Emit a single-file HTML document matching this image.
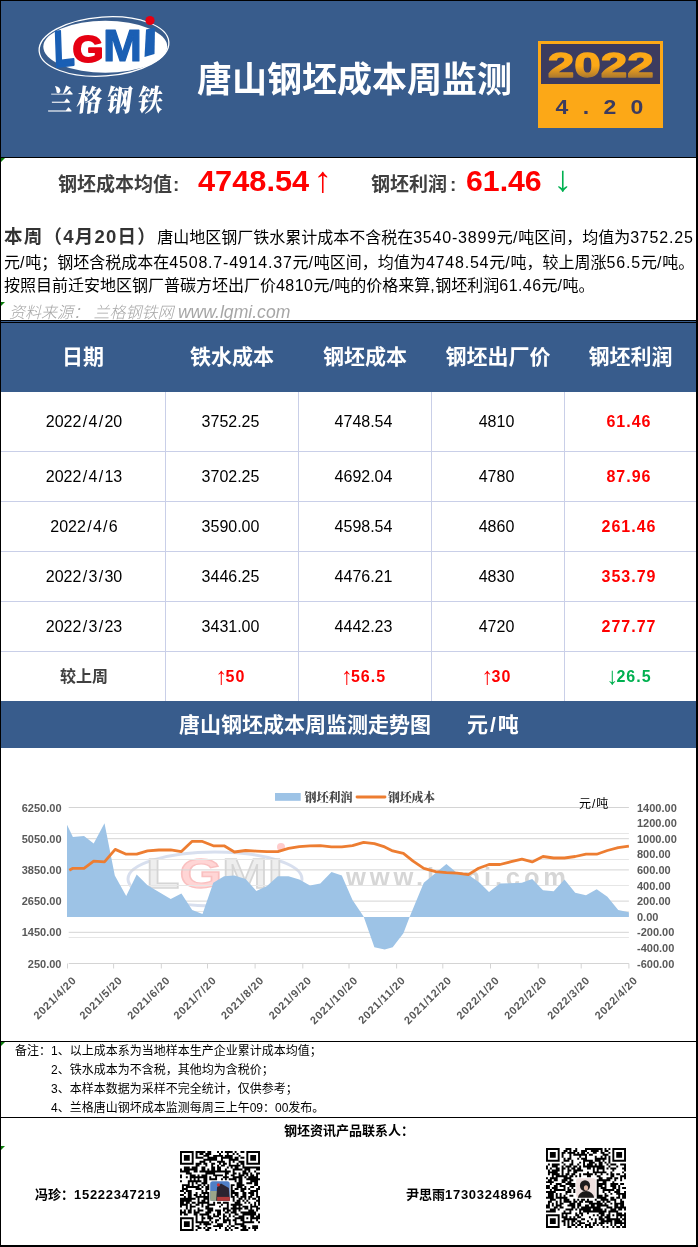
<!DOCTYPE html>
<html lang="zh-CN"><head><meta charset="utf-8"><title>唐山钢坯成本周监测</title>
<style>
*{margin:0;padding:0;box-sizing:border-box}
html,body{width:698px;height:1247px;background:#fff;overflow:hidden}
body{position:relative;font-family:"Liberation Sans","Noto Sans CJK SC",sans-serif;color:#000}
.abs{position:absolute;white-space:nowrap}
.blue{background:#385c8c}
.blk{background:#000}
.tri{position:absolute;width:0;height:0;border-top:4px solid #0a7d0a;border-right:4px solid transparent}
.hl{position:absolute;left:1px;width:695px;height:1px;background:#c9cfe8}
.vl{position:absolute;top:392px;width:1px;height:310px;background:#c9cfe8}
.th{position:absolute;top:322px;height:70px;line-height:70px;text-align:center;color:#fff;font-weight:bold;font-size:21px}
.td{position:absolute;padding-right:3px;height:50px;line-height:50px;text-align:center;font-size:16px;color:#000}
.red{color:#f00;font-weight:bold;letter-spacing:1px}
.ar{margin-right:-2px;font-size:24px;font-weight:normal;letter-spacing:0;line-height:10px;position:relative;top:2px}
.sl{padding:0 1.3px}
.grn{color:#00b050;font-weight:bold;letter-spacing:1px}
.p{position:absolute;left:4px;white-space:nowrap;font-size:16px;line-height:22px;color:#000}
.n{letter-spacing:0.8px}
.note{position:absolute;white-space:nowrap;font-size:12px;line-height:16px;color:#000}
</style></head>
<body>
<div class="abs blue" style="left:1px;top:1px;width:695px;height:156px"></div>
<svg class="abs" style="left:30px;top:10px" width="150" height="110" viewBox="30 10 150 110">
<ellipse cx="104" cy="46.5" rx="65" ry="29.5" fill="none" stroke="#fff" stroke-width="1.3" transform="rotate(-4 104 46.5)"/>
<ellipse cx="105.3" cy="46.8" rx="62" ry="26" fill="#fff"/>
<g font-family="'Liberation Sans',sans-serif" font-weight="bold" stroke-linejoin="round">
<text x="0" y="0" font-size="51" fill="#1a5fb4" stroke="#1a5fb4" stroke-width="2.2" transform="translate(54.5,67.2) rotate(-7) skewX(-5) scale(0.66,1)">L</text>
<text x="72.5" y="61.5" font-size="37" fill="#e60012" stroke="#e60012" stroke-width="1.8" textLength="31" lengthAdjust="spacingAndGlyphs">G</text>
<text x="103" y="60.5" font-size="45" fill="#1a5fb4" stroke="#1a5fb4" stroke-width="1.2" textLength="39" lengthAdjust="spacingAndGlyphs">M</text>
</g>
<path d="M144.5 57 L146 29.5 L155 27.5 L154.5 54 Z" fill="#1a5fb4"/>
<circle cx="150" cy="20.5" r="4.6" fill="#e60012"/>
<text x="60.5 89 119 150" y="93.5" transform="scale(1,1.19) skewX(-8)" font-family="'Noto Serif CJK SC','Noto Sans CJK SC',serif" font-weight="900" font-size="25" fill="#fff">兰格钢铁</text>
</svg>

<div class="abs" style="left:197px;top:54px;font-size:35px;line-height:52px;font-weight:bold;color:#fff">唐山钢坯成本周监测</div>
<div class="abs" style="left:538px;top:41px;width:125px;height:87px;background:#fca817"></div>
<div class="abs" style="left:541px;top:44px;width:119px;height:40px;background:#3c3b5f"></div>
<svg class="abs" style="left:541px;top:44px" width="119" height="40" viewBox="541 44 119 40"><defs><linearGradient id="yg" gradientUnits="userSpaceOnUse" x1="0" y1="51" x2="0" y2="78"><stop offset="0" stop-color="#fca817"/><stop offset="0.55" stop-color="#fca817"/><stop offset="1" stop-color="#a8772f"/></linearGradient></defs><text x="600.7" y="77.3" text-anchor="middle" font-family="'Liberation Sans',sans-serif" font-weight="bold" font-size="35.5" fill="url(#yg)" stroke="url(#yg)" stroke-width="1.3" stroke-linejoin="round" textLength="106" lengthAdjust="spacingAndGlyphs">2022</text></svg>
<div class="abs" style="left:551.7px;top:94px;width:20px;height:26px;line-height:26px;text-align:center;font-size:20px;font-weight:bold;color:#3c3b5f;transform:scaleX(1.15)">4</div>
<div class="abs" style="left:575.5px;top:94px;width:20px;height:26px;line-height:26px;text-align:center;font-size:20px;font-weight:bold;color:#3c3b5f;transform:scaleX(1.15)">.</div>
<div class="abs" style="left:600px;top:94px;width:20px;height:26px;line-height:26px;text-align:center;font-size:20px;font-weight:bold;color:#3c3b5f;transform:scaleX(1.15)">2</div>
<div class="abs" style="left:626.5px;top:94px;width:20px;height:26px;line-height:26px;text-align:center;font-size:20px;font-weight:bold;color:#3c3b5f;transform:scaleX(1.15)">0</div>
<div class="abs blk" style="left:0;top:0;width:698px;height:1px"></div>
<div class="abs blk" style="left:0;top:0;width:1px;height:1247px"></div>
<div class="abs blk" style="left:696px;top:0;width:2px;height:1247px"></div>
<div class="abs blk" style="left:0;top:1245px;width:698px;height:2px"></div>
<div class="abs blk" style="left:0;top:157px;width:698px;height:1px"></div>
<div class="abs blk" style="left:0;top:320px;width:698px;height:3px"></div>
<div class="abs blue" style="left:1px;top:321px;width:695px;height:1px"></div>
<div class="abs blk" style="left:0;top:1041px;width:698px;height:1px"></div>
<div class="abs blk" style="left:0;top:1117px;width:698px;height:1px"></div>
<div class="tri" style="left:1px;top:158px"></div>
<div class="tri" style="left:1px;top:302px"></div>
<div class="tri" style="left:1px;top:1042px"></div>
<div class="tri" style="left:1px;top:1146px"></div>
<div class="abs" id="s1" style="left:58px;top:170.5px;font-size:19px;line-height:28px;font-weight:bold;color:#404040">钢坯成本均值<span style="margin-left:1px">:</span></div>
<div class="abs" id="s2" style="left:198px;top:162.5px;font-size:29px;line-height:36px;font-weight:bold;color:#f00;transform:scaleX(1.06);transform-origin:0 0">4748.54</div>
<div class="abs" id="s2a" style="left:314px;top:161.5px;width:18px;text-align:center;font-size:36px;line-height:36px;color:#f00;transform:scaleX(1.05)">↑</div>
<div class="abs" id="s3" style="left:371px;top:170.5px;font-size:19px;line-height:28px;font-weight:bold;color:#404040">钢坯利润<span style="margin-left:3px">:</span></div>
<div class="abs" id="s4" style="left:466px;top:162.5px;font-size:29px;line-height:36px;font-weight:bold;color:#f00;transform:scaleX(1.043);transform-origin:0 0">61.46</div>
<div class="abs" id="s4a" style="left:553.5px;top:161.3px;width:18px;text-align:center;font-size:36px;line-height:36px;color:#00b050;transform:scaleX(1.05)">↓</div>
<div class="p" id="p1" style="top:226px"><b style="font-size:18.5px;color:#333;letter-spacing:1.25px">本周（4月20日）</b>唐山地区钢厂铁水累计成本不含税在<span class="n">3540-3899</span>元<span class="n">/</span>吨区间，均值为<span class="n">3752.25</span></div>
<div class="p" id="p2" style="top:252px">元<span class="n">/</span>吨；钢坯含税成本在<span class="n">4508.7-4914.37</span>元<span class="n">/</span>吨区间，均值为<span class="n">4748.54</span>元<span class="n">/</span>吨，较上周涨<span class="n">56.5</span>元<span class="n">/</span>吨。</div>
<div class="p" id="p3" style="top:275px">按照目前迁安地区钢厂普碳方坯出厂价<span style="letter-spacing:0.45px">4810</span>元<span style="letter-spacing:0.45px">/</span>吨的价格来算<span style="letter-spacing:0.45px">,</span>钢坯利润<span style="letter-spacing:0.45px">61.46</span>元<span style="letter-spacing:0.45px">/</span>吨。</div>
<div class="abs" id="src" style="left:9px;top:301px;height:19px;overflow:hidden;font-size:16px;line-height:22px;font-style:italic;font-weight:300;color:#a6a6a6">资料来源： 兰格钢铁网 <span style="font-size:17.6px;font-weight:400">www.lgmi.com</span></div>
<div class="abs blue" style="left:1px;top:323px;width:695px;height:69px"></div>
<div class="th" style="left:1px;width:164px">日期</div>
<div class="th" style="left:166px;width:132px">铁水成本</div>
<div class="th" style="left:299px;width:132px">钢坯成本</div>
<div class="th" style="left:432px;width:132px">钢坯出厂价</div>
<div class="th" style="left:565px;width:131px">钢坯利润</div>
<div class="td" style="padding:0 0 0 2px;left:1px;width:164px;top:392px;height:60px;line-height:60px">2022<span class="sl">/</span>4<span class="sl">/</span>20</div>
<div class="td" style="left:166px;width:132px;top:392px;height:60px;line-height:60px">3752.25</div>
<div class="td" style="left:299px;width:132px;top:392px;height:60px;line-height:60px">4748.54</div>
<div class="td" style="left:432px;width:132px;top:392px;height:60px;line-height:60px">4810</div>
<div class="td red" style="left:565px;width:131px;top:392px;height:60px;line-height:60px">61.46</div>
<div class="td" style="padding:0 0 0 2px;left:1px;width:164px;top:452px;height:50px;line-height:50px">2022<span class="sl">/</span>4<span class="sl">/</span>13</div>
<div class="td" style="left:166px;width:132px;top:452px;height:50px;line-height:50px">3702.25</div>
<div class="td" style="left:299px;width:132px;top:452px;height:50px;line-height:50px">4692.04</div>
<div class="td" style="left:432px;width:132px;top:452px;height:50px;line-height:50px">4780</div>
<div class="td red" style="left:565px;width:131px;top:452px;height:50px;line-height:50px">87.96</div>
<div class="td" style="padding:0 0 0 2px;left:1px;width:164px;top:502px;height:50px;line-height:50px">2022<span class="sl">/</span>4<span class="sl">/</span>6</div>
<div class="td" style="left:166px;width:132px;top:502px;height:50px;line-height:50px">3590.00</div>
<div class="td" style="left:299px;width:132px;top:502px;height:50px;line-height:50px">4598.54</div>
<div class="td" style="left:432px;width:132px;top:502px;height:50px;line-height:50px">4860</div>
<div class="td red" style="left:565px;width:131px;top:502px;height:50px;line-height:50px">261.46</div>
<div class="td" style="padding:0 0 0 2px;left:1px;width:164px;top:552px;height:50px;line-height:50px">2022<span class="sl">/</span>3<span class="sl">/</span>30</div>
<div class="td" style="left:166px;width:132px;top:552px;height:50px;line-height:50px">3446.25</div>
<div class="td" style="left:299px;width:132px;top:552px;height:50px;line-height:50px">4476.21</div>
<div class="td" style="left:432px;width:132px;top:552px;height:50px;line-height:50px">4830</div>
<div class="td red" style="left:565px;width:131px;top:552px;height:50px;line-height:50px">353.79</div>
<div class="td" style="padding:0 0 0 2px;left:1px;width:164px;top:602px;height:50px;line-height:50px">2022<span class="sl">/</span>3<span class="sl">/</span>23</div>
<div class="td" style="left:166px;width:132px;top:602px;height:50px;line-height:50px">3431.00</div>
<div class="td" style="left:299px;width:132px;top:602px;height:50px;line-height:50px">4442.23</div>
<div class="td" style="left:432px;width:132px;top:602px;height:50px;line-height:50px">4720</div>
<div class="td red" style="left:565px;width:131px;top:602px;height:50px;line-height:50px">277.77</div>
<div class="td" style="left:1px;width:164px;top:652px;padding:0 0 0 2px;font-weight:bold;color:#404040">较上周</div>
<div class="td red" style="left:166px;width:132px;top:652px;"><span class="ar">↑</span>50</div>
<div class="td red" style="left:299px;width:132px;top:652px;"><span class="ar">↑</span>56.5</div>
<div class="td red" style="left:432px;width:132px;top:652px;"><span class="ar">↑</span>30</div>
<div class="td grn" style="left:565px;width:131px;top:652px;"><span class="ar">↓</span>26.5</div>
<div class="hl" style="top:451px"></div>
<div class="hl" style="top:501px"></div>
<div class="hl" style="top:551px"></div>
<div class="hl" style="top:601px"></div>
<div class="hl" style="top:651px"></div>
<div class="vl" style="left:165px"></div>
<div class="vl" style="left:298px"></div>
<div class="vl" style="left:431px"></div>
<div class="vl" style="left:564px"></div>
<div class="abs blue" style="left:1px;top:701px;width:695px;height:47px"></div>
<div class="abs" id="ct" style="left:179px;top:701px;height:47px;line-height:47px;font-size:21px;font-weight:bold;color:#fff">唐山钢坯成本周监测走势图</div>
<div class="abs" id="ct2" style="left:467px;top:701px;height:47px;line-height:47px;font-size:21px;font-weight:bold;color:#fff">元<span style="padding:0 2px">/</span>吨</div>
<svg class="abs" style="left:1px;top:749px" width="695" height="292" viewBox="1 749 695 292" font-family="'Liberation Sans','Noto Sans CJK SC',sans-serif">
<g opacity="0.3"><ellipse cx="215" cy="879" rx="87" ry="27" fill="none" stroke="#7f97c9" stroke-width="3"/><ellipse cx="215" cy="879" rx="78" ry="21" fill="#fff" fill-opacity="0.45"/><text x="146" y="888" font-size="43" font-weight="bold" textLength="137" lengthAdjust="spacingAndGlyphs" stroke-width="1.4"><tspan fill="#c8c8c8" stroke="#777">L</tspan><tspan fill="#f77" stroke="#e33">G</tspan><tspan fill="#c8c8c8" stroke="#777">MI</tspan></text><circle cx="281" cy="847" r="4" fill="#f55"/></g>
<text x="346" y="886" font-size="25.5" font-weight="bold" fill="#d6d6d6" textLength="220" lengthAdjust="spacing">www.lgmi.com</text>
<line x1="68.7" x2="628.9" y1="833.5" y2="833.5" stroke="#e6e6e6" stroke-width="1"/>
<line x1="68.7" x2="628.9" y1="859.5" y2="859.5" stroke="#e6e6e6" stroke-width="1"/>
<line x1="68.7" x2="628.9" y1="885.5" y2="885.5" stroke="#e6e6e6" stroke-width="1"/>
<line x1="68.7" x2="628.9" y1="911.5" y2="911.5" stroke="#e6e6e6" stroke-width="1"/>
<line x1="68.7" x2="628.9" y1="937.5" y2="937.5" stroke="#e6e6e6" stroke-width="1"/>
<line x1="68.7" x2="628.9" y1="807.5" y2="807.5" stroke="#d4d4d4" stroke-width="1"/>
<line x1="68.7" x2="628.9" y1="838.7" y2="838.7" stroke="#d4d4d4" stroke-width="1"/>
<line x1="68.7" x2="628.9" y1="869.9" y2="869.9" stroke="#d4d4d4" stroke-width="1"/>
<line x1="68.7" x2="628.9" y1="901.1" y2="901.1" stroke="#d4d4d4" stroke-width="1"/>
<line x1="68.7" x2="628.9" y1="932.3" y2="932.3" stroke="#d4d4d4" stroke-width="1"/>
<line x1="68.7" x2="628.9" y1="963.5" y2="963.5" stroke="#d4d4d4" stroke-width="1"/>
<polygon points="67.0,917.0 67.0,824.7 72.9,837 84,835.9 93.7,843.6 104.5,823.2 114.8,875.6 126.2,896 136.7,874.6 147.5,885.3 158.9,892 170.7,898.9 181.4,893.5 192.2,910 202.5,913.9 213.3,882.7 224.1,876.3 234.4,875.6 245.6,879.1 256.3,890.9 267,886 277.8,876.3 288.5,876.3 299.3,879.5 310,885.5 320.3,883.4 331.5,872 341.8,875.6 352.5,899.9 363.6,916.5 374.4,947.2 384.7,949.4 392.7,947.2 403.4,933.2 409.8,916.5 423.8,882.7 435.6,873.1 446.4,864 457.1,873.1 469,875.2 479.7,882.7 489,892 500,883.4 511,883.2 521.9,882.7 532.2,879.1 543,890.3 553.7,891.3 564.5,879.5 575.2,892.8 586,895.2 596.7,889.2 607.4,896.7 618.2,910 628.9,912.2 628.9,917.0" fill="#9dc3e6"/>
<polyline points="69.3,870.3 72.9,868.3 84,868.3 93.7,861.2 104.5,861.9 115.2,849.4 126.2,854.2 136.7,854.2 147.5,850.9 158.9,850 170.7,849.9 181.4,851.6 192.2,841.3 201.8,841.3 213.3,845.8 224.1,845.8 234.4,852 245.6,850.5 256.3,851.1 267,851.6 277.8,851.6 288.5,848.4 299.3,846.6 310,845.8 320.3,845.6 331.5,846.9 341.8,846.9 352.5,845.6 363.6,842.3 374.4,843.6 384.7,846.9 392.7,850.9 403.4,853.3 413.1,861.2 423.8,868.3 435.6,871.6 446.4,872.6 457.1,873.1 468.3,874.6 478.6,868.3 489,864.5 500,864.5 511.2,861.7 521.9,859.1 532.2,861.9 543,856.5 553.7,858 564.5,858 575.2,856.5 586,854.2 596.7,854.2 607.4,850.5 618.2,847.7 628.9,846.2" fill="none" stroke="#ed7d31" stroke-width="2.8" stroke-linejoin="round" stroke-linecap="butt"/>
<line x1="67.5" x2="67.5" y1="963.5" y2="968.5" stroke="#d4d4d4" stroke-width="1"/>
<line x1="113.6" x2="113.6" y1="963.5" y2="968.5" stroke="#d4d4d4" stroke-width="1"/>
<line x1="161.3" x2="161.3" y1="963.5" y2="968.5" stroke="#d4d4d4" stroke-width="1"/>
<line x1="207.5" x2="207.5" y1="963.5" y2="968.5" stroke="#d4d4d4" stroke-width="1"/>
<line x1="255.1" x2="255.1" y1="963.5" y2="968.5" stroke="#d4d4d4" stroke-width="1"/>
<line x1="302.8" x2="302.8" y1="963.5" y2="968.5" stroke="#d4d4d4" stroke-width="1"/>
<line x1="349.0" x2="349.0" y1="963.5" y2="968.5" stroke="#d4d4d4" stroke-width="1"/>
<line x1="396.6" x2="396.6" y1="963.5" y2="968.5" stroke="#d4d4d4" stroke-width="1"/>
<line x1="442.8" x2="442.8" y1="963.5" y2="968.5" stroke="#d4d4d4" stroke-width="1"/>
<line x1="490.5" x2="490.5" y1="963.5" y2="968.5" stroke="#d4d4d4" stroke-width="1"/>
<line x1="538.2" x2="538.2" y1="963.5" y2="968.5" stroke="#d4d4d4" stroke-width="1"/>
<line x1="581.2" x2="581.2" y1="963.5" y2="968.5" stroke="#d4d4d4" stroke-width="1"/>
<line x1="628.9" x2="628.9" y1="963.5" y2="968.5" stroke="#d4d4d4" stroke-width="1"/>
<text x="61.5" y="811.5" font-size="11" font-weight="bold" fill="#595959" text-anchor="end">6250.00</text>
<text x="61.5" y="842.7" font-size="11" font-weight="bold" fill="#595959" text-anchor="end">5050.00</text>
<text x="61.5" y="873.9" font-size="11" font-weight="bold" fill="#595959" text-anchor="end">3850.00</text>
<text x="61.5" y="905.1" font-size="11" font-weight="bold" fill="#595959" text-anchor="end">2650.00</text>
<text x="61.5" y="936.3" font-size="11" font-weight="bold" fill="#595959" text-anchor="end">1450.00</text>
<text x="61.5" y="967.5" font-size="11" font-weight="bold" fill="#595959" text-anchor="end">250.00</text>
<text x="637" y="811.5" font-size="11" font-weight="bold" fill="#595959">1400.00</text>
<text x="637" y="827.1" font-size="11" font-weight="bold" fill="#595959">1200.00</text>
<text x="637" y="842.7" font-size="11" font-weight="bold" fill="#595959">1000.00</text>
<text x="637" y="858.3" font-size="11" font-weight="bold" fill="#595959">800.00</text>
<text x="637" y="873.9" font-size="11" font-weight="bold" fill="#595959">600.00</text>
<text x="637" y="889.5" font-size="11" font-weight="bold" fill="#595959">400.00</text>
<text x="637" y="905.1" font-size="11" font-weight="bold" fill="#595959">200.00</text>
<text x="637" y="920.7" font-size="11" font-weight="bold" fill="#595959">0.00</text>
<text x="637" y="936.3" font-size="11" font-weight="bold" fill="#595959">-200.00</text>
<text x="637" y="951.9" font-size="11" font-weight="bold" fill="#595959">-400.00</text>
<text x="637" y="967.5" font-size="11" font-weight="bold" fill="#595959">-600.00</text>
<text font-size="11" font-weight="bold" fill="#595959" text-anchor="end" letter-spacing="0.7" transform="translate(77.0,981.0) rotate(-45)">2021/4/20</text>
<text font-size="11" font-weight="bold" fill="#595959" text-anchor="end" letter-spacing="0.7" transform="translate(123.1,981.0) rotate(-45)">2021/5/20</text>
<text font-size="11" font-weight="bold" fill="#595959" text-anchor="end" letter-spacing="0.7" transform="translate(170.8,981.0) rotate(-45)">2021/6/20</text>
<text font-size="11" font-weight="bold" fill="#595959" text-anchor="end" letter-spacing="0.7" transform="translate(217.0,981.0) rotate(-45)">2021/7/20</text>
<text font-size="11" font-weight="bold" fill="#595959" text-anchor="end" letter-spacing="0.7" transform="translate(264.6,981.0) rotate(-45)">2021/8/20</text>
<text font-size="11" font-weight="bold" fill="#595959" text-anchor="end" letter-spacing="0.7" transform="translate(312.3,981.0) rotate(-45)">2021/9/20</text>
<text font-size="11" font-weight="bold" fill="#595959" text-anchor="end" letter-spacing="0.7" transform="translate(358.5,981.0) rotate(-45)">2021/10/20</text>
<text font-size="11" font-weight="bold" fill="#595959" text-anchor="end" letter-spacing="0.7" transform="translate(406.1,981.0) rotate(-45)">2021/11/20</text>
<text font-size="11" font-weight="bold" fill="#595959" text-anchor="end" letter-spacing="0.7" transform="translate(452.3,981.0) rotate(-45)">2021/12/20</text>
<text font-size="11" font-weight="bold" fill="#595959" text-anchor="end" letter-spacing="0.7" transform="translate(500.0,981.0) rotate(-45)">2022/1/20</text>
<text font-size="11" font-weight="bold" fill="#595959" text-anchor="end" letter-spacing="0.7" transform="translate(547.7,981.0) rotate(-45)">2022/2/20</text>
<text font-size="11" font-weight="bold" fill="#595959" text-anchor="end" letter-spacing="0.7" transform="translate(590.7,981.0) rotate(-45)">2022/3/20</text>
<text font-size="11" font-weight="bold" fill="#595959" text-anchor="end" letter-spacing="0.7" transform="translate(638.4,981.0) rotate(-45)">2022/4/20</text>
<rect x="275" y="793" width="25.7" height="7.8" fill="#9dc3e6"/>
<text x="304.5" y="802" font-size="12" font-weight="900" font-family="'Noto Serif CJK SC',serif" fill="#4a4a4a" textLength="48" lengthAdjust="spacingAndGlyphs">钢坯利润</text>
<line x1="357" x2="385" y1="797" y2="797" stroke="#ed7d31" stroke-width="2.8" stroke-linecap="round"/>
<text x="388" y="802" font-size="12" font-weight="900" font-family="'Noto Serif CJK SC',serif" fill="#4a4a4a" textLength="47" lengthAdjust="spacingAndGlyphs">钢坯成本</text>
<text x="579" y="808" font-size="12" fill="#000">元<tspan dx="1">/</tspan><tspan dx="1">吨</tspan></text>
</svg>
<div class="note" style="left:15px;top:1043px">备注：1、以上成本系为当地样本生产企业累计成本均值；</div>
<div class="note" style="left:51px;top:1062px">2、铁水成本为不含税，其他均为含税价；</div>
<div class="note" style="left:51px;top:1081px">3、本样本数据为采样不完全统计，仅供参考；</div>
<div class="note" style="left:51px;top:1100px">4、兰格唐山钢坏成本监测每周三上午09：00发布。</div>
<div class="abs" id="c0" style="left:284px;top:1122px;font-size:13px;line-height:18px;font-weight:bold">钢坯资讯产品联系人：</div>
<div class="abs" id="c1" style="left:35px;top:1186px;font-size:13px;line-height:18px;font-weight:bold">冯珍：<span style="letter-spacing:0.7px">15222347219</span></div>
<div class="abs" id="c2" style="left:406px;top:1186px;font-size:13px;line-height:18px;font-weight:bold">尹思雨<span style="letter-spacing:0.7px">17303248964</span></div>
<svg class="abs" style="left:180.4px;top:1151.2px" width="80" height="80" viewBox="0 0 80 80"><rect width="80" height="80" fill="#fff"/><path d="M0.00 0.00h13.66v1.95h-13.66zM15.61 0.00h9.76v1.95h-9.76zM27.32 0.00h3.90v1.95h-3.90zM37.07 0.00h1.95v1.95h-1.95zM40.98 0.00h1.95v1.95h-1.95zM44.88 0.00h7.80v1.95h-7.80zM54.63 0.00h1.95v1.95h-1.95zM60.49 0.00h3.90v1.95h-3.90zM66.34 0.00h13.66v1.95h-13.66zM0.00 1.95h1.95v1.95h-1.95zM11.71 1.95h1.95v1.95h-1.95zM15.61 1.95h1.95v1.95h-1.95zM19.51 1.95h3.90v1.95h-3.90zM25.37 1.95h5.85v1.95h-5.85zM39.02 1.95h1.95v1.95h-1.95zM46.83 1.95h1.95v1.95h-1.95zM52.68 1.95h1.95v1.95h-1.95zM56.59 1.95h1.95v1.95h-1.95zM66.34 1.95h1.95v1.95h-1.95zM78.05 1.95h1.95v1.95h-1.95zM0.00 3.90h1.95v1.95h-1.95zM3.90 3.90h5.85v1.95h-5.85zM11.71 3.90h1.95v1.95h-1.95zM15.61 3.90h1.95v1.95h-1.95zM23.41 3.90h5.85v1.95h-5.85zM33.17 3.90h9.76v1.95h-9.76zM44.88 3.90h7.80v1.95h-7.80zM58.54 3.90h1.95v1.95h-1.95zM66.34 3.90h1.95v1.95h-1.95zM70.24 3.90h5.85v1.95h-5.85zM78.05 3.90h1.95v1.95h-1.95zM0.00 5.85h1.95v1.95h-1.95zM3.90 5.85h5.85v1.95h-5.85zM11.71 5.85h1.95v1.95h-1.95zM15.61 5.85h7.80v1.95h-7.80zM27.32 5.85h9.76v1.95h-9.76zM40.98 5.85h11.71v1.95h-11.71zM54.63 5.85h3.90v1.95h-3.90zM60.49 5.85h3.90v1.95h-3.90zM66.34 5.85h1.95v1.95h-1.95zM70.24 5.85h5.85v1.95h-5.85zM78.05 5.85h1.95v1.95h-1.95zM0.00 7.80h1.95v1.95h-1.95zM3.90 7.80h5.85v1.95h-5.85zM11.71 7.80h1.95v1.95h-1.95zM23.41 7.80h13.66v1.95h-13.66zM40.98 7.80h1.95v1.95h-1.95zM48.78 7.80h9.76v1.95h-9.76zM66.34 7.80h1.95v1.95h-1.95zM70.24 7.80h5.85v1.95h-5.85zM78.05 7.80h1.95v1.95h-1.95zM0.00 9.76h1.95v1.95h-1.95zM11.71 9.76h1.95v1.95h-1.95zM19.51 9.76h5.85v1.95h-5.85zM29.27 9.76h1.95v1.95h-1.95zM37.07 9.76h7.80v1.95h-7.80zM48.78 9.76h1.95v1.95h-1.95zM52.68 9.76h1.95v1.95h-1.95zM58.54 9.76h5.85v1.95h-5.85zM66.34 9.76h1.95v1.95h-1.95zM78.05 9.76h1.95v1.95h-1.95zM0.00 11.71h13.66v1.95h-13.66zM15.61 11.71h5.85v1.95h-5.85zM23.41 11.71h3.90v1.95h-3.90zM31.22 11.71h3.90v1.95h-3.90zM39.02 11.71h1.95v1.95h-1.95zM42.93 11.71h3.90v1.95h-3.90zM48.78 11.71h1.95v1.95h-1.95zM56.59 11.71h1.95v1.95h-1.95zM60.49 11.71h3.90v1.95h-3.90zM66.34 11.71h13.66v1.95h-13.66zM15.61 13.66h3.90v1.95h-3.90zM25.37 13.66h1.95v1.95h-1.95zM31.22 13.66h1.95v1.95h-1.95zM37.07 13.66h1.95v1.95h-1.95zM40.98 13.66h3.90v1.95h-3.90zM48.78 13.66h11.71v1.95h-11.71zM62.44 13.66h1.95v1.95h-1.95zM3.90 15.61h5.85v1.95h-5.85zM11.71 15.61h5.85v1.95h-5.85zM21.46 15.61h3.90v1.95h-3.90zM31.22 15.61h3.90v1.95h-3.90zM37.07 15.61h3.90v1.95h-3.90zM46.83 15.61h1.95v1.95h-1.95zM50.73 15.61h1.95v1.95h-1.95zM54.63 15.61h3.90v1.95h-3.90zM62.44 15.61h17.56v1.95h-17.56zM0.00 17.56h1.95v1.95h-1.95zM3.90 17.56h13.66v1.95h-13.66zM21.46 17.56h3.90v1.95h-3.90zM27.32 17.56h1.95v1.95h-1.95zM31.22 17.56h3.90v1.95h-3.90zM37.07 17.56h3.90v1.95h-3.90zM44.88 17.56h1.95v1.95h-1.95zM52.68 17.56h9.76v1.95h-9.76zM64.39 17.56h5.85v1.95h-5.85zM76.10 17.56h3.90v1.95h-3.90zM0.00 19.51h9.76v1.95h-9.76zM13.66 19.51h3.90v1.95h-3.90zM19.51 19.51h31.22v1.95h-31.22zM52.68 19.51h1.95v1.95h-1.95zM62.44 19.51h3.90v1.95h-3.90zM68.29 19.51h1.95v1.95h-1.95zM74.15 19.51h1.95v1.95h-1.95zM5.85 21.46h5.85v1.95h-5.85zM25.37 21.46h9.76v1.95h-9.76zM44.88 21.46h3.90v1.95h-3.90zM52.68 21.46h3.90v1.95h-3.90zM58.54 21.46h1.95v1.95h-1.95zM62.44 21.46h5.85v1.95h-5.85zM70.24 21.46h1.95v1.95h-1.95zM76.10 21.46h3.90v1.95h-3.90zM0.00 23.41h1.95v1.95h-1.95zM9.76 23.41h5.85v1.95h-5.85zM17.56 23.41h1.95v1.95h-1.95zM21.46 23.41h5.85v1.95h-5.85zM33.17 23.41h9.76v1.95h-9.76zM44.88 23.41h1.95v1.95h-1.95zM50.73 23.41h3.90v1.95h-3.90zM58.54 23.41h5.85v1.95h-5.85zM66.34 23.41h1.95v1.95h-1.95zM70.24 23.41h3.90v1.95h-3.90zM76.10 23.41h1.95v1.95h-1.95zM0.00 25.37h1.95v1.95h-1.95zM5.85 25.37h1.95v1.95h-1.95zM9.76 25.37h17.56v1.95h-17.56zM29.27 25.37h1.95v1.95h-1.95zM35.12 25.37h1.95v1.95h-1.95zM42.93 25.37h5.85v1.95h-5.85zM52.68 25.37h9.76v1.95h-9.76zM64.39 25.37h1.95v1.95h-1.95zM68.29 25.37h9.76v1.95h-9.76zM9.76 27.32h1.95v1.95h-1.95zM13.66 27.32h1.95v1.95h-1.95zM17.56 27.32h1.95v1.95h-1.95zM23.41 27.32h3.90v1.95h-3.90zM29.27 27.32h7.80v1.95h-7.80zM40.98 27.32h1.95v1.95h-1.95zM44.88 27.32h1.95v1.95h-1.95zM48.78 27.32h7.80v1.95h-7.80zM58.54 27.32h3.90v1.95h-3.90zM66.34 27.32h13.66v1.95h-13.66zM0.00 29.27h1.95v1.95h-1.95zM7.80 29.27h13.66v1.95h-13.66zM23.41 29.27h3.90v1.95h-3.90zM54.63 29.27h1.95v1.95h-1.95zM58.54 29.27h3.90v1.95h-3.90zM70.24 29.27h7.80v1.95h-7.80zM7.80 31.22h1.95v1.95h-1.95zM11.71 31.22h1.95v1.95h-1.95zM15.61 31.22h1.95v1.95h-1.95zM21.46 31.22h5.85v1.95h-5.85zM56.59 31.22h5.85v1.95h-5.85zM66.34 31.22h5.85v1.95h-5.85zM74.15 31.22h3.90v1.95h-3.90zM1.95 33.17h7.80v1.95h-7.80zM11.71 33.17h1.95v1.95h-1.95zM17.56 33.17h3.90v1.95h-3.90zM23.41 33.17h1.95v1.95h-1.95zM27.32 33.17h1.95v1.95h-1.95zM50.73 33.17h3.90v1.95h-3.90zM56.59 33.17h7.80v1.95h-7.80zM74.15 33.17h3.90v1.95h-3.90zM1.95 35.12h1.95v1.95h-1.95zM5.85 35.12h13.66v1.95h-13.66zM21.46 35.12h1.95v1.95h-1.95zM25.37 35.12h3.90v1.95h-3.90zM50.73 35.12h1.95v1.95h-1.95zM56.59 35.12h5.85v1.95h-5.85zM64.39 35.12h1.95v1.95h-1.95zM70.24 35.12h3.90v1.95h-3.90zM78.05 35.12h1.95v1.95h-1.95zM1.95 37.07h5.85v1.95h-5.85zM15.61 37.07h5.85v1.95h-5.85zM25.37 37.07h3.90v1.95h-3.90zM50.73 37.07h1.95v1.95h-1.95zM54.63 37.07h3.90v1.95h-3.90zM60.49 37.07h5.85v1.95h-5.85zM68.29 37.07h1.95v1.95h-1.95zM76.10 37.07h3.90v1.95h-3.90zM0.00 39.02h3.90v1.95h-3.90zM5.85 39.02h5.85v1.95h-5.85zM21.46 39.02h1.95v1.95h-1.95zM25.37 39.02h1.95v1.95h-1.95zM50.73 39.02h3.90v1.95h-3.90zM60.49 39.02h3.90v1.95h-3.90zM70.24 39.02h7.80v1.95h-7.80zM3.90 40.98h1.95v1.95h-1.95zM7.80 40.98h3.90v1.95h-3.90zM15.61 40.98h1.95v1.95h-1.95zM21.46 40.98h7.80v1.95h-7.80zM50.73 40.98h7.80v1.95h-7.80zM62.44 40.98h3.90v1.95h-3.90zM68.29 40.98h5.85v1.95h-5.85zM76.10 40.98h1.95v1.95h-1.95zM0.00 42.93h3.90v1.95h-3.90zM7.80 42.93h3.90v1.95h-3.90zM13.66 42.93h3.90v1.95h-3.90zM19.51 42.93h1.95v1.95h-1.95zM23.41 42.93h1.95v1.95h-1.95zM27.32 42.93h1.95v1.95h-1.95zM50.73 42.93h1.95v1.95h-1.95zM54.63 42.93h3.90v1.95h-3.90zM62.44 42.93h3.90v1.95h-3.90zM70.24 42.93h3.90v1.95h-3.90zM76.10 42.93h1.95v1.95h-1.95zM3.90 44.88h1.95v1.95h-1.95zM7.80 44.88h3.90v1.95h-3.90zM15.61 44.88h13.66v1.95h-13.66zM50.73 44.88h3.90v1.95h-3.90zM56.59 44.88h1.95v1.95h-1.95zM60.49 44.88h5.85v1.95h-5.85zM68.29 44.88h3.90v1.95h-3.90zM76.10 44.88h3.90v1.95h-3.90zM0.00 46.83h15.61v1.95h-15.61zM17.56 46.83h1.95v1.95h-1.95zM23.41 46.83h5.85v1.95h-5.85zM52.68 46.83h1.95v1.95h-1.95zM58.54 46.83h3.90v1.95h-3.90zM64.39 46.83h1.95v1.95h-1.95zM68.29 46.83h1.95v1.95h-1.95zM72.20 46.83h3.90v1.95h-3.90zM78.05 46.83h1.95v1.95h-1.95zM0.00 48.78h11.71v1.95h-11.71zM17.56 48.78h1.95v1.95h-1.95zM21.46 48.78h3.90v1.95h-3.90zM27.32 48.78h1.95v1.95h-1.95zM52.68 48.78h1.95v1.95h-1.95zM56.59 48.78h3.90v1.95h-3.90zM62.44 48.78h1.95v1.95h-1.95zM66.34 48.78h1.95v1.95h-1.95zM76.10 48.78h3.90v1.95h-3.90zM0.00 50.73h3.90v1.95h-3.90zM5.85 50.73h3.90v1.95h-3.90zM11.71 50.73h3.90v1.95h-3.90zM17.56 50.73h11.71v1.95h-11.71zM33.17 50.73h1.95v1.95h-1.95zM37.07 50.73h3.90v1.95h-3.90zM42.93 50.73h5.85v1.95h-5.85zM54.63 50.73h5.85v1.95h-5.85zM64.39 50.73h1.95v1.95h-1.95zM68.29 50.73h1.95v1.95h-1.95zM74.15 50.73h1.95v1.95h-1.95zM78.05 50.73h1.95v1.95h-1.95zM0.00 52.68h7.80v1.95h-7.80zM9.76 52.68h1.95v1.95h-1.95zM15.61 52.68h3.90v1.95h-3.90zM21.46 52.68h1.95v1.95h-1.95zM27.32 52.68h7.80v1.95h-7.80zM40.98 52.68h1.95v1.95h-1.95zM46.83 52.68h1.95v1.95h-1.95zM50.73 52.68h11.71v1.95h-11.71zM70.24 52.68h1.95v1.95h-1.95zM74.15 52.68h1.95v1.95h-1.95zM78.05 52.68h1.95v1.95h-1.95zM0.00 54.63h1.95v1.95h-1.95zM5.85 54.63h1.95v1.95h-1.95zM9.76 54.63h5.85v1.95h-5.85zM21.46 54.63h1.95v1.95h-1.95zM25.37 54.63h3.90v1.95h-3.90zM39.02 54.63h1.95v1.95h-1.95zM46.83 54.63h1.95v1.95h-1.95zM52.68 54.63h3.90v1.95h-3.90zM58.54 54.63h1.95v1.95h-1.95zM62.44 54.63h5.85v1.95h-5.85zM70.24 54.63h7.80v1.95h-7.80zM5.85 56.59h1.95v1.95h-1.95zM9.76 56.59h1.95v1.95h-1.95zM17.56 56.59h1.95v1.95h-1.95zM25.37 56.59h7.80v1.95h-7.80zM42.93 56.59h5.85v1.95h-5.85zM50.73 56.59h11.71v1.95h-11.71zM64.39 56.59h3.90v1.95h-3.90zM70.24 56.59h1.95v1.95h-1.95zM76.10 56.59h3.90v1.95h-3.90zM0.00 58.54h1.95v1.95h-1.95zM3.90 58.54h1.95v1.95h-1.95zM7.80 58.54h3.90v1.95h-3.90zM13.66 58.54h1.95v1.95h-1.95zM17.56 58.54h5.85v1.95h-5.85zM27.32 58.54h5.85v1.95h-5.85zM35.12 58.54h5.85v1.95h-5.85zM42.93 58.54h1.95v1.95h-1.95zM46.83 58.54h3.90v1.95h-3.90zM52.68 58.54h3.90v1.95h-3.90zM58.54 58.54h1.95v1.95h-1.95zM68.29 58.54h5.85v1.95h-5.85zM76.10 58.54h1.95v1.95h-1.95zM0.00 60.49h5.85v1.95h-5.85zM7.80 60.49h3.90v1.95h-3.90zM13.66 60.49h5.85v1.95h-5.85zM25.37 60.49h5.85v1.95h-5.85zM37.07 60.49h3.90v1.95h-3.90zM44.88 60.49h3.90v1.95h-3.90zM50.73 60.49h5.85v1.95h-5.85zM60.49 60.49h15.61v1.95h-15.61zM0.00 62.44h1.95v1.95h-1.95zM3.90 62.44h3.90v1.95h-3.90zM13.66 62.44h3.90v1.95h-3.90zM19.51 62.44h9.76v1.95h-9.76zM33.17 62.44h1.95v1.95h-1.95zM37.07 62.44h3.90v1.95h-3.90zM42.93 62.44h1.95v1.95h-1.95zM48.78 62.44h1.95v1.95h-1.95zM54.63 62.44h3.90v1.95h-3.90zM62.44 62.44h13.66v1.95h-13.66zM78.05 62.44h1.95v1.95h-1.95zM15.61 64.39h1.95v1.95h-1.95zM21.46 64.39h1.95v1.95h-1.95zM27.32 64.39h3.90v1.95h-3.90zM33.17 64.39h5.85v1.95h-5.85zM42.93 64.39h3.90v1.95h-3.90zM48.78 64.39h1.95v1.95h-1.95zM52.68 64.39h1.95v1.95h-1.95zM58.54 64.39h5.85v1.95h-5.85zM70.24 64.39h3.90v1.95h-3.90zM76.10 64.39h3.90v1.95h-3.90zM0.00 66.34h13.66v1.95h-13.66zM15.61 66.34h1.95v1.95h-1.95zM21.46 66.34h3.90v1.95h-3.90zM27.32 66.34h5.85v1.95h-5.85zM39.02 66.34h1.95v1.95h-1.95zM42.93 66.34h1.95v1.95h-1.95zM46.83 66.34h1.95v1.95h-1.95zM54.63 66.34h9.76v1.95h-9.76zM66.34 66.34h1.95v1.95h-1.95zM70.24 66.34h9.76v1.95h-9.76zM0.00 68.29h1.95v1.95h-1.95zM11.71 68.29h1.95v1.95h-1.95zM15.61 68.29h1.95v1.95h-1.95zM21.46 68.29h1.95v1.95h-1.95zM29.27 68.29h1.95v1.95h-1.95zM35.12 68.29h3.90v1.95h-3.90zM42.93 68.29h7.80v1.95h-7.80zM52.68 68.29h3.90v1.95h-3.90zM60.49 68.29h3.90v1.95h-3.90zM70.24 68.29h1.95v1.95h-1.95zM76.10 68.29h1.95v1.95h-1.95zM0.00 70.24h1.95v1.95h-1.95zM3.90 70.24h5.85v1.95h-5.85zM11.71 70.24h1.95v1.95h-1.95zM15.61 70.24h13.66v1.95h-13.66zM31.22 70.24h1.95v1.95h-1.95zM35.12 70.24h1.95v1.95h-1.95zM42.93 70.24h3.90v1.95h-3.90zM48.78 70.24h1.95v1.95h-1.95zM54.63 70.24h1.95v1.95h-1.95zM62.44 70.24h11.71v1.95h-11.71zM78.05 70.24h1.95v1.95h-1.95zM0.00 72.20h1.95v1.95h-1.95zM3.90 72.20h5.85v1.95h-5.85zM11.71 72.20h1.95v1.95h-1.95zM19.51 72.20h1.95v1.95h-1.95zM23.41 72.20h7.80v1.95h-7.80zM37.07 72.20h5.85v1.95h-5.85zM48.78 72.20h1.95v1.95h-1.95zM54.63 72.20h9.76v1.95h-9.76zM0.00 74.15h1.95v1.95h-1.95zM3.90 74.15h5.85v1.95h-5.85zM11.71 74.15h1.95v1.95h-1.95zM15.61 74.15h3.90v1.95h-3.90zM25.37 74.15h1.95v1.95h-1.95zM33.17 74.15h9.76v1.95h-9.76zM46.83 74.15h1.95v1.95h-1.95zM50.73 74.15h3.90v1.95h-3.90zM60.49 74.15h5.85v1.95h-5.85zM72.20 74.15h5.85v1.95h-5.85zM0.00 76.10h1.95v1.95h-1.95zM11.71 76.10h1.95v1.95h-1.95zM17.56 76.10h3.90v1.95h-3.90zM23.41 76.10h1.95v1.95h-1.95zM27.32 76.10h3.90v1.95h-3.90zM39.02 76.10h1.95v1.95h-1.95zM44.88 76.10h1.95v1.95h-1.95zM48.78 76.10h1.95v1.95h-1.95zM54.63 76.10h3.90v1.95h-3.90zM62.44 76.10h3.90v1.95h-3.90zM68.29 76.10h1.95v1.95h-1.95zM72.20 76.10h5.85v1.95h-5.85zM0.00 78.05h13.66v1.95h-13.66zM15.61 78.05h1.95v1.95h-1.95zM25.37 78.05h3.90v1.95h-3.90zM35.12 78.05h1.95v1.95h-1.95zM44.88 78.05h3.90v1.95h-3.90zM50.73 78.05h1.95v1.95h-1.95zM60.49 78.05h7.80v1.95h-7.80zM74.15 78.05h1.95v1.95h-1.95z" fill="#000"/><g shape-rendering="auto"><rect x="30.2" y="30.2" width="19.5" height="19.5" rx="2.5" fill="#4f7fc6"/><rect x="30.2" y="40.0" width="8.8" height="9.8" fill="#9aa58a"/><path d="M36.1 49.8 L37.1 36.1 L41.0 32.6 L48.8 37.1 L49.8 49.8 Z" fill="#2b2430"/><rect x="37.1" y="45.9" width="12.7" height="3.9" fill="#b03a3a"/><circle cx="38.4" cy="33.8" r="1.6" fill="#d03030"/></g></svg>
<svg class="abs" style="left:546.4px;top:1148.4px" width="80" height="80" viewBox="0 0 80 80"><rect width="80" height="80" fill="#fff"/><path d="M0.00 0.00h13.66v1.95h-13.66zM19.51 0.00h5.85v1.95h-5.85zM29.27 0.00h1.95v1.95h-1.95zM39.02 0.00h17.56v1.95h-17.56zM58.54 0.00h1.95v1.95h-1.95zM62.44 0.00h1.95v1.95h-1.95zM66.34 0.00h13.66v1.95h-13.66zM0.00 1.95h1.95v1.95h-1.95zM11.71 1.95h1.95v1.95h-1.95zM17.56 1.95h3.90v1.95h-3.90zM23.41 1.95h1.95v1.95h-1.95zM27.32 1.95h3.90v1.95h-3.90zM35.12 1.95h5.85v1.95h-5.85zM44.88 1.95h7.80v1.95h-7.80zM54.63 1.95h1.95v1.95h-1.95zM58.54 1.95h3.90v1.95h-3.90zM66.34 1.95h1.95v1.95h-1.95zM78.05 1.95h1.95v1.95h-1.95zM0.00 3.90h1.95v1.95h-1.95zM3.90 3.90h5.85v1.95h-5.85zM11.71 3.90h1.95v1.95h-1.95zM15.61 3.90h3.90v1.95h-3.90zM21.46 3.90h7.80v1.95h-7.80zM31.22 3.90h1.95v1.95h-1.95zM35.12 3.90h3.90v1.95h-3.90zM40.98 3.90h1.95v1.95h-1.95zM46.83 3.90h3.90v1.95h-3.90zM54.63 3.90h3.90v1.95h-3.90zM62.44 3.90h1.95v1.95h-1.95zM66.34 3.90h1.95v1.95h-1.95zM70.24 3.90h5.85v1.95h-5.85zM78.05 3.90h1.95v1.95h-1.95zM0.00 5.85h1.95v1.95h-1.95zM3.90 5.85h5.85v1.95h-5.85zM11.71 5.85h1.95v1.95h-1.95zM15.61 5.85h1.95v1.95h-1.95zM23.41 5.85h1.95v1.95h-1.95zM27.32 5.85h13.66v1.95h-13.66zM42.93 5.85h3.90v1.95h-3.90zM56.59 5.85h5.85v1.95h-5.85zM66.34 5.85h1.95v1.95h-1.95zM70.24 5.85h5.85v1.95h-5.85zM78.05 5.85h1.95v1.95h-1.95zM0.00 7.80h1.95v1.95h-1.95zM3.90 7.80h5.85v1.95h-5.85zM11.71 7.80h1.95v1.95h-1.95zM15.61 7.80h1.95v1.95h-1.95zM23.41 7.80h1.95v1.95h-1.95zM33.17 7.80h1.95v1.95h-1.95zM39.02 7.80h1.95v1.95h-1.95zM48.78 7.80h1.95v1.95h-1.95zM54.63 7.80h1.95v1.95h-1.95zM58.54 7.80h1.95v1.95h-1.95zM62.44 7.80h1.95v1.95h-1.95zM66.34 7.80h1.95v1.95h-1.95zM70.24 7.80h5.85v1.95h-5.85zM78.05 7.80h1.95v1.95h-1.95zM0.00 9.76h1.95v1.95h-1.95zM11.71 9.76h1.95v1.95h-1.95zM17.56 9.76h1.95v1.95h-1.95zM21.46 9.76h3.90v1.95h-3.90zM31.22 9.76h1.95v1.95h-1.95zM35.12 9.76h5.85v1.95h-5.85zM48.78 9.76h11.71v1.95h-11.71zM62.44 9.76h1.95v1.95h-1.95zM66.34 9.76h1.95v1.95h-1.95zM78.05 9.76h1.95v1.95h-1.95zM0.00 11.71h13.66v1.95h-13.66zM17.56 11.71h5.85v1.95h-5.85zM25.37 11.71h1.95v1.95h-1.95zM37.07 11.71h9.76v1.95h-9.76zM48.78 11.71h5.85v1.95h-5.85zM56.59 11.71h1.95v1.95h-1.95zM62.44 11.71h1.95v1.95h-1.95zM66.34 11.71h13.66v1.95h-13.66zM15.61 13.66h1.95v1.95h-1.95zM25.37 13.66h1.95v1.95h-1.95zM33.17 13.66h1.95v1.95h-1.95zM37.07 13.66h1.95v1.95h-1.95zM42.93 13.66h5.85v1.95h-5.85zM52.68 13.66h3.90v1.95h-3.90zM58.54 13.66h1.95v1.95h-1.95zM62.44 13.66h1.95v1.95h-1.95zM1.95 15.61h1.95v1.95h-1.95zM5.85 15.61h7.80v1.95h-7.80zM17.56 15.61h1.95v1.95h-1.95zM23.41 15.61h3.90v1.95h-3.90zM31.22 15.61h1.95v1.95h-1.95zM37.07 15.61h1.95v1.95h-1.95zM40.98 15.61h5.85v1.95h-5.85zM48.78 15.61h1.95v1.95h-1.95zM52.68 15.61h3.90v1.95h-3.90zM60.49 15.61h1.95v1.95h-1.95zM64.39 15.61h5.85v1.95h-5.85zM74.15 15.61h5.85v1.95h-5.85zM0.00 17.56h1.95v1.95h-1.95zM5.85 17.56h5.85v1.95h-5.85zM15.61 17.56h1.95v1.95h-1.95zM19.51 17.56h5.85v1.95h-5.85zM27.32 17.56h3.90v1.95h-3.90zM33.17 17.56h1.95v1.95h-1.95zM37.07 17.56h21.46v1.95h-21.46zM62.44 17.56h1.95v1.95h-1.95zM70.24 17.56h1.95v1.95h-1.95zM78.05 17.56h1.95v1.95h-1.95zM0.00 19.51h1.95v1.95h-1.95zM3.90 19.51h1.95v1.95h-1.95zM9.76 19.51h3.90v1.95h-3.90zM15.61 19.51h3.90v1.95h-3.90zM21.46 19.51h1.95v1.95h-1.95zM25.37 19.51h3.90v1.95h-3.90zM31.22 19.51h3.90v1.95h-3.90zM40.98 19.51h3.90v1.95h-3.90zM46.83 19.51h1.95v1.95h-1.95zM50.73 19.51h7.80v1.95h-7.80zM60.49 19.51h1.95v1.95h-1.95zM64.39 19.51h5.85v1.95h-5.85zM76.10 19.51h3.90v1.95h-3.90zM1.95 21.46h1.95v1.95h-1.95zM5.85 21.46h7.80v1.95h-7.80zM15.61 21.46h1.95v1.95h-1.95zM21.46 21.46h3.90v1.95h-3.90zM27.32 21.46h9.76v1.95h-9.76zM46.83 21.46h1.95v1.95h-1.95zM50.73 21.46h1.95v1.95h-1.95zM56.59 21.46h1.95v1.95h-1.95zM66.34 21.46h1.95v1.95h-1.95zM78.05 21.46h1.95v1.95h-1.95zM1.95 23.41h9.76v1.95h-9.76zM15.61 23.41h1.95v1.95h-1.95zM21.46 23.41h1.95v1.95h-1.95zM27.32 23.41h3.90v1.95h-3.90zM40.98 23.41h1.95v1.95h-1.95zM46.83 23.41h13.66v1.95h-13.66zM64.39 23.41h1.95v1.95h-1.95zM76.10 23.41h1.95v1.95h-1.95zM1.95 25.37h1.95v1.95h-1.95zM5.85 25.37h7.80v1.95h-7.80zM15.61 25.37h1.95v1.95h-1.95zM19.51 25.37h3.90v1.95h-3.90zM25.37 25.37h3.90v1.95h-3.90zM33.17 25.37h1.95v1.95h-1.95zM37.07 25.37h9.76v1.95h-9.76zM48.78 25.37h1.95v1.95h-1.95zM54.63 25.37h1.95v1.95h-1.95zM60.49 25.37h1.95v1.95h-1.95zM64.39 25.37h3.90v1.95h-3.90zM70.24 25.37h3.90v1.95h-3.90zM78.05 25.37h1.95v1.95h-1.95zM5.85 27.32h1.95v1.95h-1.95zM9.76 27.32h11.71v1.95h-11.71zM23.41 27.32h3.90v1.95h-3.90zM29.27 27.32h1.95v1.95h-1.95zM33.17 27.32h1.95v1.95h-1.95zM40.98 27.32h3.90v1.95h-3.90zM50.73 27.32h3.90v1.95h-3.90zM64.39 27.32h3.90v1.95h-3.90zM74.15 27.32h5.85v1.95h-5.85zM0.00 29.27h1.95v1.95h-1.95zM3.90 29.27h7.80v1.95h-7.80zM17.56 29.27h7.80v1.95h-7.80zM52.68 29.27h3.90v1.95h-3.90zM60.49 29.27h5.85v1.95h-5.85zM68.29 29.27h3.90v1.95h-3.90zM74.15 29.27h1.95v1.95h-1.95zM78.05 29.27h1.95v1.95h-1.95zM1.95 31.22h3.90v1.95h-3.90zM7.80 31.22h3.90v1.95h-3.90zM15.61 31.22h5.85v1.95h-5.85zM23.41 31.22h3.90v1.95h-3.90zM50.73 31.22h13.66v1.95h-13.66zM68.29 31.22h1.95v1.95h-1.95zM74.15 31.22h1.95v1.95h-1.95zM0.00 33.17h7.80v1.95h-7.80zM15.61 33.17h3.90v1.95h-3.90zM21.46 33.17h3.90v1.95h-3.90zM50.73 33.17h1.95v1.95h-1.95zM56.59 33.17h3.90v1.95h-3.90zM66.34 33.17h1.95v1.95h-1.95zM3.90 35.12h1.95v1.95h-1.95zM9.76 35.12h5.85v1.95h-5.85zM19.51 35.12h9.76v1.95h-9.76zM50.73 35.12h9.76v1.95h-9.76zM64.39 35.12h7.80v1.95h-7.80zM74.15 35.12h3.90v1.95h-3.90zM0.00 37.07h3.90v1.95h-3.90zM7.80 37.07h3.90v1.95h-3.90zM13.66 37.07h5.85v1.95h-5.85zM23.41 37.07h5.85v1.95h-5.85zM50.73 37.07h5.85v1.95h-5.85zM58.54 37.07h1.95v1.95h-1.95zM64.39 37.07h5.85v1.95h-5.85zM72.20 37.07h1.95v1.95h-1.95zM0.00 39.02h3.90v1.95h-3.90zM5.85 39.02h5.85v1.95h-5.85zM17.56 39.02h1.95v1.95h-1.95zM21.46 39.02h1.95v1.95h-1.95zM25.37 39.02h1.95v1.95h-1.95zM50.73 39.02h1.95v1.95h-1.95zM54.63 39.02h5.85v1.95h-5.85zM66.34 39.02h3.90v1.95h-3.90zM72.20 39.02h1.95v1.95h-1.95zM76.10 39.02h3.90v1.95h-3.90zM3.90 40.98h1.95v1.95h-1.95zM7.80 40.98h11.71v1.95h-11.71zM21.46 40.98h3.90v1.95h-3.90zM27.32 40.98h1.95v1.95h-1.95zM50.73 40.98h1.95v1.95h-1.95zM56.59 40.98h11.71v1.95h-11.71zM70.24 40.98h3.90v1.95h-3.90zM0.00 42.93h9.76v1.95h-9.76zM19.51 42.93h5.85v1.95h-5.85zM27.32 42.93h1.95v1.95h-1.95zM50.73 42.93h1.95v1.95h-1.95zM56.59 42.93h1.95v1.95h-1.95zM62.44 42.93h1.95v1.95h-1.95zM68.29 42.93h5.85v1.95h-5.85zM78.05 42.93h1.95v1.95h-1.95zM1.95 44.88h5.85v1.95h-5.85zM9.76 44.88h1.95v1.95h-1.95zM13.66 44.88h1.95v1.95h-1.95zM19.51 44.88h1.95v1.95h-1.95zM50.73 44.88h1.95v1.95h-1.95zM58.54 44.88h1.95v1.95h-1.95zM64.39 44.88h1.95v1.95h-1.95zM70.24 44.88h9.76v1.95h-9.76zM1.95 46.83h5.85v1.95h-5.85zM9.76 46.83h1.95v1.95h-1.95zM13.66 46.83h1.95v1.95h-1.95zM17.56 46.83h1.95v1.95h-1.95zM23.41 46.83h3.90v1.95h-3.90zM50.73 46.83h5.85v1.95h-5.85zM58.54 46.83h3.90v1.95h-3.90zM72.20 46.83h1.95v1.95h-1.95zM76.10 46.83h3.90v1.95h-3.90zM0.00 48.78h7.80v1.95h-7.80zM9.76 48.78h11.71v1.95h-11.71zM50.73 48.78h9.76v1.95h-9.76zM64.39 48.78h3.90v1.95h-3.90zM70.24 48.78h3.90v1.95h-3.90zM76.10 48.78h3.90v1.95h-3.90zM3.90 50.73h5.85v1.95h-5.85zM13.66 50.73h1.95v1.95h-1.95zM17.56 50.73h5.85v1.95h-5.85zM27.32 50.73h1.95v1.95h-1.95zM31.22 50.73h1.95v1.95h-1.95zM35.12 50.73h3.90v1.95h-3.90zM40.98 50.73h1.95v1.95h-1.95zM48.78 50.73h1.95v1.95h-1.95zM54.63 50.73h7.80v1.95h-7.80zM64.39 50.73h5.85v1.95h-5.85zM74.15 50.73h1.95v1.95h-1.95zM1.95 52.68h3.90v1.95h-3.90zM9.76 52.68h1.95v1.95h-1.95zM13.66 52.68h1.95v1.95h-1.95zM17.56 52.68h7.80v1.95h-7.80zM27.32 52.68h3.90v1.95h-3.90zM33.17 52.68h3.90v1.95h-3.90zM39.02 52.68h7.80v1.95h-7.80zM50.73 52.68h3.90v1.95h-3.90zM56.59 52.68h1.95v1.95h-1.95zM60.49 52.68h3.90v1.95h-3.90zM68.29 52.68h1.95v1.95h-1.95zM74.15 52.68h3.90v1.95h-3.90zM1.95 54.63h1.95v1.95h-1.95zM5.85 54.63h1.95v1.95h-1.95zM9.76 54.63h1.95v1.95h-1.95zM13.66 54.63h3.90v1.95h-3.90zM23.41 54.63h5.85v1.95h-5.85zM31.22 54.63h3.90v1.95h-3.90zM42.93 54.63h13.66v1.95h-13.66zM58.54 54.63h1.95v1.95h-1.95zM64.39 54.63h1.95v1.95h-1.95zM68.29 54.63h9.76v1.95h-9.76zM0.00 56.59h3.90v1.95h-3.90zM5.85 56.59h1.95v1.95h-1.95zM9.76 56.59h5.85v1.95h-5.85zM21.46 56.59h7.80v1.95h-7.80zM31.22 56.59h3.90v1.95h-3.90zM39.02 56.59h3.90v1.95h-3.90zM44.88 56.59h3.90v1.95h-3.90zM50.73 56.59h11.71v1.95h-11.71zM68.29 56.59h3.90v1.95h-3.90zM74.15 56.59h3.90v1.95h-3.90zM0.00 58.54h3.90v1.95h-3.90zM7.80 58.54h3.90v1.95h-3.90zM13.66 58.54h3.90v1.95h-3.90zM25.37 58.54h3.90v1.95h-3.90zM31.22 58.54h1.95v1.95h-1.95zM35.12 58.54h19.51v1.95h-19.51zM60.49 58.54h5.85v1.95h-5.85zM68.29 58.54h11.71v1.95h-11.71zM3.90 60.49h5.85v1.95h-5.85zM11.71 60.49h1.95v1.95h-1.95zM19.51 60.49h7.80v1.95h-7.80zM29.27 60.49h1.95v1.95h-1.95zM33.17 60.49h11.71v1.95h-11.71zM46.83 60.49h9.76v1.95h-9.76zM58.54 60.49h1.95v1.95h-1.95zM64.39 60.49h5.85v1.95h-5.85zM72.20 60.49h3.90v1.95h-3.90zM78.05 60.49h1.95v1.95h-1.95zM0.00 62.44h9.76v1.95h-9.76zM17.56 62.44h1.95v1.95h-1.95zM23.41 62.44h1.95v1.95h-1.95zM33.17 62.44h1.95v1.95h-1.95zM37.07 62.44h23.41v1.95h-23.41zM62.44 62.44h9.76v1.95h-9.76zM15.61 64.39h9.76v1.95h-9.76zM29.27 64.39h1.95v1.95h-1.95zM33.17 64.39h3.90v1.95h-3.90zM40.98 64.39h1.95v1.95h-1.95zM52.68 64.39h5.85v1.95h-5.85zM62.44 64.39h1.95v1.95h-1.95zM70.24 64.39h5.85v1.95h-5.85zM78.05 64.39h1.95v1.95h-1.95zM0.00 66.34h13.66v1.95h-13.66zM15.61 66.34h1.95v1.95h-1.95zM19.51 66.34h1.95v1.95h-1.95zM29.27 66.34h3.90v1.95h-3.90zM35.12 66.34h1.95v1.95h-1.95zM46.83 66.34h1.95v1.95h-1.95zM50.73 66.34h1.95v1.95h-1.95zM54.63 66.34h3.90v1.95h-3.90zM60.49 66.34h3.90v1.95h-3.90zM66.34 66.34h1.95v1.95h-1.95zM70.24 66.34h9.76v1.95h-9.76zM0.00 68.29h1.95v1.95h-1.95zM11.71 68.29h1.95v1.95h-1.95zM15.61 68.29h5.85v1.95h-5.85zM23.41 68.29h1.95v1.95h-1.95zM27.32 68.29h1.95v1.95h-1.95zM31.22 68.29h3.90v1.95h-3.90zM42.93 68.29h1.95v1.95h-1.95zM52.68 68.29h3.90v1.95h-3.90zM58.54 68.29h5.85v1.95h-5.85zM70.24 68.29h1.95v1.95h-1.95zM74.15 68.29h1.95v1.95h-1.95zM78.05 68.29h1.95v1.95h-1.95zM0.00 70.24h1.95v1.95h-1.95zM3.90 70.24h5.85v1.95h-5.85zM11.71 70.24h1.95v1.95h-1.95zM17.56 70.24h13.66v1.95h-13.66zM35.12 70.24h3.90v1.95h-3.90zM44.88 70.24h1.95v1.95h-1.95zM48.78 70.24h1.95v1.95h-1.95zM52.68 70.24h5.85v1.95h-5.85zM60.49 70.24h13.66v1.95h-13.66zM76.10 70.24h3.90v1.95h-3.90zM0.00 72.20h1.95v1.95h-1.95zM3.90 72.20h5.85v1.95h-5.85zM11.71 72.20h1.95v1.95h-1.95zM15.61 72.20h3.90v1.95h-3.90zM21.46 72.20h1.95v1.95h-1.95zM25.37 72.20h3.90v1.95h-3.90zM31.22 72.20h3.90v1.95h-3.90zM40.98 72.20h1.95v1.95h-1.95zM48.78 72.20h1.95v1.95h-1.95zM54.63 72.20h11.71v1.95h-11.71zM68.29 72.20h7.80v1.95h-7.80zM78.05 72.20h1.95v1.95h-1.95zM0.00 74.15h1.95v1.95h-1.95zM3.90 74.15h5.85v1.95h-5.85zM11.71 74.15h1.95v1.95h-1.95zM17.56 74.15h1.95v1.95h-1.95zM21.46 74.15h1.95v1.95h-1.95zM25.37 74.15h1.95v1.95h-1.95zM29.27 74.15h1.95v1.95h-1.95zM33.17 74.15h5.85v1.95h-5.85zM42.93 74.15h1.95v1.95h-1.95zM46.83 74.15h3.90v1.95h-3.90zM52.68 74.15h5.85v1.95h-5.85zM60.49 74.15h1.95v1.95h-1.95zM64.39 74.15h1.95v1.95h-1.95zM68.29 74.15h11.71v1.95h-11.71zM0.00 76.10h1.95v1.95h-1.95zM11.71 76.10h1.95v1.95h-1.95zM17.56 76.10h1.95v1.95h-1.95zM21.46 76.10h1.95v1.95h-1.95zM25.37 76.10h3.90v1.95h-3.90zM31.22 76.10h3.90v1.95h-3.90zM39.02 76.10h5.85v1.95h-5.85zM46.83 76.10h1.95v1.95h-1.95zM50.73 76.10h1.95v1.95h-1.95zM54.63 76.10h1.95v1.95h-1.95zM64.39 76.10h1.95v1.95h-1.95zM68.29 76.10h1.95v1.95h-1.95zM74.15 76.10h1.95v1.95h-1.95zM78.05 76.10h1.95v1.95h-1.95zM0.00 78.05h13.66v1.95h-13.66zM21.46 78.05h3.90v1.95h-3.90zM29.27 78.05h1.95v1.95h-1.95zM35.12 78.05h1.95v1.95h-1.95zM39.02 78.05h1.95v1.95h-1.95zM42.93 78.05h3.90v1.95h-3.90zM56.59 78.05h1.95v1.95h-1.95zM60.49 78.05h1.95v1.95h-1.95zM66.34 78.05h1.95v1.95h-1.95zM70.24 78.05h3.90v1.95h-3.90zM76.10 78.05h3.90v1.95h-3.90z" fill="#000"/><g shape-rendering="auto"><rect x="30.2" y="30.2" width="19.5" height="19.5" rx="2" fill="#efe0df"/><ellipse cx="39.0" cy="37.7" rx="5.1" ry="5.5" fill="#1e1b1b"/><ellipse cx="40.0" cy="40.0" rx="2.1" ry="2.7" fill="#e0b8a6"/><path d="M31.8 49.8 Q33.2 43.5 40.0 43.1 Q46.8 43.5 48.2 49.8 Z" fill="#1c1a1a"/></g></svg>
</body></html>
